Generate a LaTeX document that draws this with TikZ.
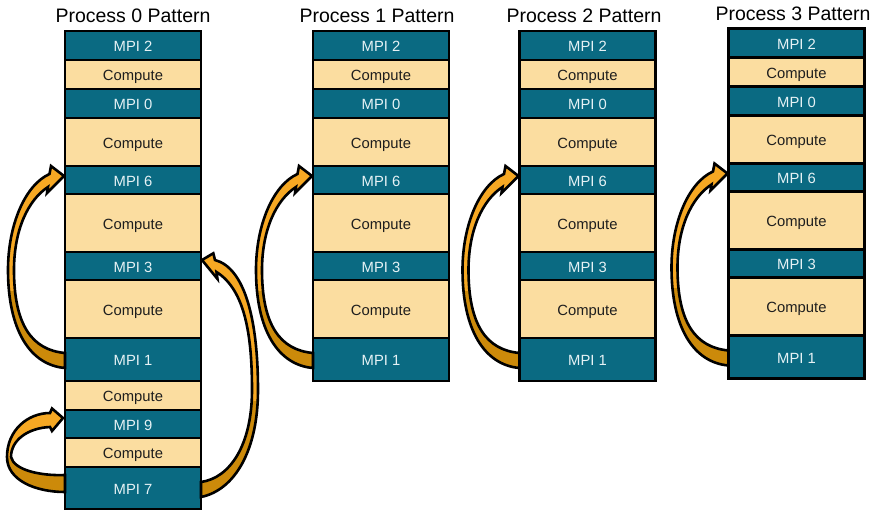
\documentclass[tikz,border=0pt]{standalone}
\usepackage{fontspec}
\setmainfont{Liberation Sans}
\definecolor{mpiblue}{HTML}{0A6A82}
\definecolor{mpitext}{HTML}{E6F2F5}
\definecolor{compfill}{HTML}{FBDDA0}
\definecolor{comptext}{HTML}{1E1E1E}
\definecolor{lightor}{HTML}{F6A823}
\definecolor{darkor}{HTML}{CC8A0A}
\tikzset{
  arrowL/.pic={
    \path[save path=\arrpath] (-1,-4) -- (-14,-14) -- (-15.5,-6)
      .. controls (-40,5) and (-57,45) .. (-57,90)
      .. controls (-57,150) and (-35,185) .. (0,188)
      -- (0,173)
      .. controls (-33,170) and (-51,145) .. (-51,90)
      .. controls (-51,50) and (-37,20) .. (-17,7)
      -- (-18,13) -- cycle;
    \fill[darkor, use path=\arrpath];
    \begin{scope}
      \clip (-80,-30) rectangle (10,110);
      \fill[lightor, use path=\arrpath];
    \end{scope}
    \draw[arrline, use path=\arrpath];
  },
  arrowR/.pic={
    \path[save path=\arrpath] (1,-6) -- (12.3,-12.7) -- (14,-6)
      .. controls (44,2) and (57,54) .. (57,124)
      .. controls (57,184) and (34,224) .. (0,231)
      -- (0,216)
      .. controls (29,212) and (51,179) .. (51,124)
      .. controls (51,69) and (44,24) .. (15.5,6)
      -- (16.5,13) -- cycle;
    \fill[darkor, use path=\arrpath];
    \begin{scope}
      \clip (-10,-30) rectangle (80,134);
      \fill[lightor, use path=\arrpath];
    \end{scope}
    \draw[arrline, use path=\arrpath];
  },
  arrowLoop/.pic={
    \path[save path=\arrpath] (-2,-6) -- (-13,-15.5) -- (-15,-11)
      .. controls (-37,-11) and (-58,6) .. (-58,33)
      .. controls (-58,56) and (-30,68) .. (0,68)
      -- (0,51)
      .. controls (-25,52) and (-51,46) .. (-54,33)
      .. controls (-54,16) and (-37,4) .. (-15,3)
      -- (-13,7) -- cycle;
    \fill[darkor, use path=\arrpath];
    \begin{scope}
      \clip (-80,-30) rectangle (10,33);
      \fill[lightor, use path=\arrpath];
    \end{scope}
    \draw[arrline, use path=\arrpath];
  }
}
\begin{document}
\begin{tikzpicture}[x=1pt,y=-1pt,
  box/.style={rectangle, draw=black, line width=2.5pt, minimum width=136pt,
    inner sep=0pt, outer sep=0pt, text height=12.6pt, text depth=0pt,
    font=\fontsize{14.8}{17}\selectfont},
  mpi/.style={box, fill=mpiblue, text=mpitext},
  comp/.style={box, fill=compfill, text=comptext},
  title/.style={anchor=base, inner sep=0pt, text=black,
    font=\fontsize{19.5}{23}\selectfont},
  arrline/.style={draw=black, line width=2.6pt, line join=miter}]
\useasboundingbox (0,0) rectangle (876,511);

% titles
\node[title] (t0) at (133,23) {Process 0 Pattern};
\node[title] (t1) at (377,23) {Process 1 Pattern};
\node[title] (t2) at (584,23) {Process 2 Pattern};
\node[title] (t3) at (793,21) {Process 3 Pattern};

% process 0 column
\foreach \y/\h/\s/\t/\n in {
  45.5/29/mpi/MPI 2/m2, 74.5/29/comp/Compute/c1, 103.5/29/mpi/MPI 0/m0,
  142/48/comp/Compute/c2, 180/28/mpi/MPI 6/m6, 223/58/comp/Compute/c3,
  266/28/mpi/MPI 3/m3, 309/58/comp/Compute/c4, 359.5/43/mpi/MPI 1/m1,
  395.5/29/comp/Compute/c5, 424/28/mpi/MPI 9/m9, 452.5/29/comp/Compute/c6,
  488/42/mpi/MPI 7/m7}{
  \node[\s, minimum height=\h] (p0-\n) at (133,\y) {\t};
}

% processes 1-3
\foreach \c/\cx/\dy in {1/381/0, 2/587.5/0, 3/796.5/-2.5}{
  \foreach \y/\h/\s/\t/\n in {
    45.5/29/mpi/MPI 2/m2, 74.5/29/comp/Compute/c1, 103.5/29/mpi/MPI 0/m0,
    142/48/comp/Compute/c2, 180/28/mpi/MPI 6/m6, 223/58/comp/Compute/c3,
    266/28/mpi/MPI 3/m3, 309/58/comp/Compute/c4, 359.5/43/mpi/MPI 1/m1}{
    \node[\s, minimum height=\h] (p\c-\n) at (\cx,\y+\dy) {\t};
  }
}

% curved arrows (tail at MPI 1 -> head at MPI 6, etc.)
\path (p0-m6.west) pic {arrowL};
\path (p1-m6.west) pic {arrowL};
\path (p2-m6.west) pic {arrowL};
\path (p3-m6.west) pic {arrowL};
\path (p0-m3.east) pic {arrowR};
\path (p0-m9.west) pic {arrowLoop};
\end{tikzpicture}
\end{document}
